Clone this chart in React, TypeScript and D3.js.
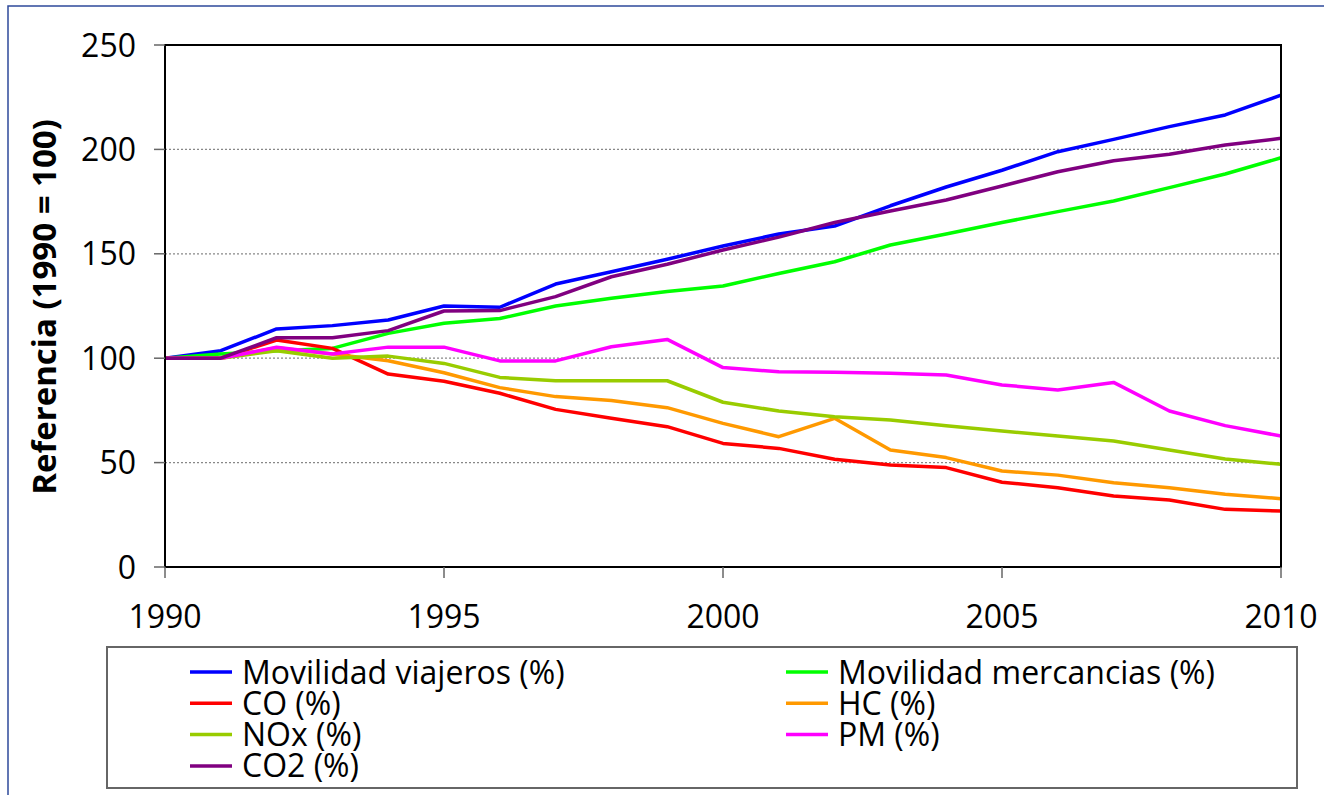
import React from 'react'
import * as d3 from 'd3'

// years on the x axis
const years = d3.range(1990, 2011)
const yTicks = [0, 50, 100, 150, 200, 250]
const xTicks = [1990, 1995, 2000, 2005, 2010]

const viajeros = [100, 103.6, 114, 115.6, 118.3, 125, 124.4, 135.5, 141.4, 147.4, 153.7, 159.5, 163.3, 173, 182, 190, 198.9, 204.8, 210.9, 216.5, 226]
const mercancias = [100, 102, 103.6, 104.7, 111.9, 116.7, 119, 125, 128.7, 131.9, 134.6, 140.6, 146.2, 154.2, 159.5, 165, 170.2, 175.3, 181.7, 188.2, 196]
const co = [100, 100, 108.7, 104.7, 92.4, 89, 83.2, 75.5, 71.2, 67.2, 59.2, 56.8, 51.6, 48.9, 47.6, 40.6, 38, 34, 32.1, 27.6, 26.8]
const hc = [100, 100, 105, 102, 98.8, 93, 85.9, 81.6, 79.7, 76.3, 68.8, 62.4, 71.2, 56, 52.4, 46, 44, 40.4, 38, 34.8, 32.7]
const nox = [100, 100, 103.6, 100, 101, 97.5, 90.8, 89.2, 89.2, 89.2, 78.9, 74.7, 72, 70.4, 67.7, 65.1, 62.7, 60.3, 56, 51.7, 49.2]
const pm = [100, 100, 105.2, 102, 105.3, 105.3, 98.7, 98.7, 105.5, 109, 95.5, 93.5, 93.3, 92.8, 92, 87.2, 84.8, 88.4, 74.7, 67.7, 62.7]
const co2 = [100, 100, 109.8, 109.8, 113.2, 122.6, 122.8, 129.5, 139, 145, 151.8, 158, 165, 170.5, 175.8, 182.5, 189.3, 194.6, 197.7, 202.1, 205.3]

const seriesNames = ['Movilidad viajeros (%)', 'Movilidad mercancias (%)', 'CO (%)', 'HC (%)', 'NOx (%)', 'PM (%)', 'CO2 (%)']
const seriesValues = [viajeros, mercancias, co, hc, nox, pm, co2]
const seriesColors = ['#0000ff', '#00ff00', '#ff0000', '#ff9900', '#99cc00', '#ff00ff', '#800080']

const font = '"Open Sans", "Noto Sans", sans-serif'

const App = () => {
    const width = 1324, height = 795
    const left = 165, right = 1281, top = 45, bottom = 567

    const x = d3.scaleLinear().domain([1990, 2010]).range([left, right])
    const y = d3.scaleLinear().domain([0, 250]).range([bottom, top])

    const line = d3.line<number>()
        .x((d, i) => x(years[i]))
        .y(d => y(d))

    // legend: two columns, four rows
    const legX = [190, 786]
    const legY0 = 672, legDy = 31.3

    return (
        <svg width={width} height={height} style={{ position: 'absolute', left: 0, top: 0, background: '#fff' }}>
            {/* outer frame */}
            <rect x={8} y={6} width={1400} height={900} fill="#fff" stroke="#2e4a9a" strokeWidth={1.5} />

            {/* grid */}
            {yTicks.filter(t => t > 0 && t < 250).map(t => (
                <line key={'g' + t} x1={left} x2={right} y1={y(t)} y2={y(t)}
                    stroke="#888" strokeWidth={1.3} strokeDasharray="2,2" />
            ))}

            {/* series */}
            {seriesValues.map((vals, i) => (
                <path key={seriesNames[i]} d={line(vals) || ''} fill="none"
                    stroke={seriesColors[i]} strokeWidth={3.5} strokeLinejoin="round" />
            ))}

            {/* plot box */}
            <rect x={left} y={top} width={right - left} height={bottom - top} fill="none" stroke="#000" strokeWidth={2} />

            {/* y axis ticks */}
            {yTicks.map(t => (
                <g key={'y' + t}>
                    <line x1={left - 11} x2={left} y1={y(t)} y2={y(t)} stroke="#666" strokeWidth={1.5} />
                    <text x={136} y={y(t)} dy="0.36em" textAnchor="end" fontFamily={font} fontSize={32} fill="#000">{t}</text>
                </g>
            ))}

            {/* x axis ticks */}
            {xTicks.map(t => (
                <g key={'x' + t}>
                    <line x1={x(t)} x2={x(t)} y1={bottom} y2={bottom + 11} stroke="#666" strokeWidth={1.5} />
                    <text x={x(t)} y={628} textAnchor="middle" fontFamily={font} fontSize={32} fill="#000">{t}</text>
                </g>
            ))}

            {/* y axis title */}
            <text transform={`translate(56,307) rotate(-90)`} textAnchor="middle" fontFamily={font}
                fontWeight="bold" fontSize={33} fill="#000">Referencia (1990 = 100)</text>

            {/* legend */}
            <rect x={107} y={647} width={1190} height={141} fill="#fff" stroke="#666" strokeWidth={2} />
            {seriesNames.map((name, i) => {
                const col = i % 2, row = Math.floor(i / 2)
                const ly = legY0 + row * legDy
                return (
                    <g key={'l' + name}>
                        <line x1={legX[col]} x2={legX[col] + 42} y1={ly} y2={ly} stroke={seriesColors[i]} strokeWidth={3.5} />
                        <text x={legX[col] + 52} y={ly} dy="0.36em" fontFamily={font} fontSize={32} fill="#000">{name}</text>
                    </g>
                )
            })}
        </svg>
    )
}

export default App
